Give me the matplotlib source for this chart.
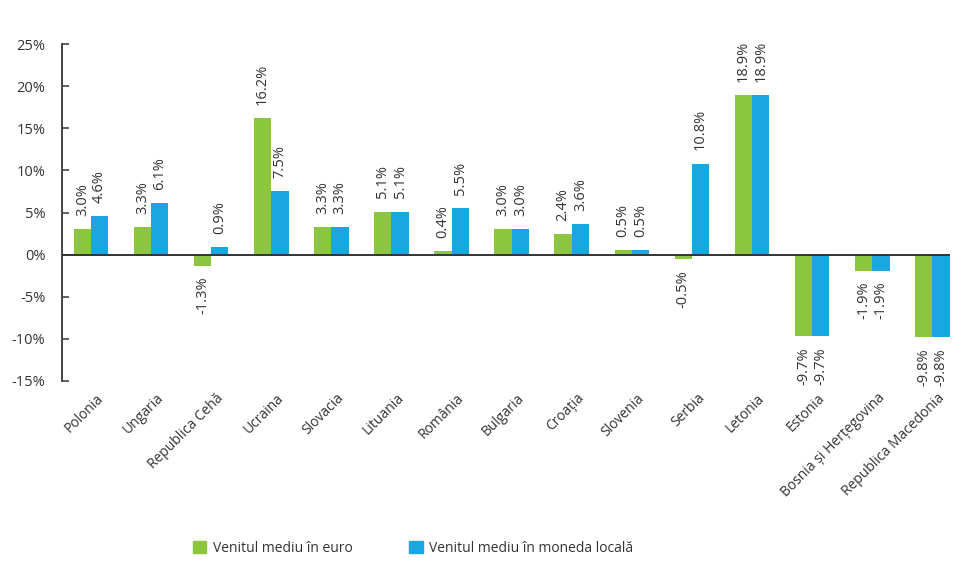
import matplotlib
matplotlib.use("Agg")
import matplotlib.pyplot as plt
import matplotlib.transforms as mtransforms
from matplotlib.patches import Patch
import numpy as np

categories = ["Polonia", "Ungaria", "Republica Cehă", "Ucraina", "Slovacia", "Lituania",
              "România", "Bulgaria", "Croația", "Slovenia", "Serbia", "Letonia",
              "Estonia", "Bosnia și Herțegovina", "Republica Macedonia"]
euro = [3.0, 3.3, -1.3, 16.2, 3.3, 5.1, 0.4, 3.0, 2.4, 0.5, -0.5, 18.9, -9.7, -1.9, -9.8]
local = [4.6, 6.1, 0.9, 7.5, 3.3, 5.1, 5.5, 3.0, 3.6, 0.5, 10.8, 18.9, -9.7, -1.9, -9.8]
series_names = ["Venitul mediu în euro", "Venitul mediu în moneda locală"]
yticks = [-15, -10, -5, 0, 5, 10, 15, 20, 25]

GREEN = "#8CC63E"
BLUE = "#1AA6E0"
TXT = "#333333"

plt.rcParams['font.family'] = ['Open Sans', 'DejaVu Sans']

fig = plt.figure(figsize=(9.67, 5.77), dpi=100)
ax = fig.add_axes([62/967, 1-381/577, (950-62)/967, (381-44)/577])

x = np.arange(len(categories))
w = 0.288
b1 = ax.bar(x - w/2, euro, w, color=GREEN, label=series_names[0])
b2 = ax.bar(x + w/2, local, w, color=BLUE, label=series_names[1])

for bars, vals in ((b1, euro), (b2, local)):
    for rect, v in zip(bars, vals):
        cx = rect.get_x() + rect.get_width()/2
        off = 9.5 if v >= 0 else -8
        ax.annotate(f"{v:.1f}%", (cx, v), xytext=(0, off), textcoords="offset points",
                    rotation=90, ha="center", va="bottom" if v >= 0 else "top",
                    fontsize=10.5, color=TXT)

ax.axhline(0, color="#333333", lw=1.4, zorder=3)
ax.set_xlim(-0.482, len(categories) - 1 + w + 0.005)
ax.set_ylim(-15, 25)
ax.set_yticks(yticks)
ax.set_yticklabels([f"{t}%" for t in yticks], fontsize=10.5, color=TXT)
ax.tick_params(axis="y", direction="in", length=5, width=1.2, color="#444444", pad=12)

ax.set_xticks(x)
ax.set_xticklabels(categories, rotation=45, ha="right", rotation_mode="anchor",
                   fontsize=10, color=TXT)
ax.tick_params(axis="x", length=0, pad=7)
offset = mtransforms.ScaledTranslation(5/100, 0, fig.dpi_scale_trans)
for lab in ax.get_xticklabels():
    lab.set_transform(lab.get_transform() + offset)

for s in ("top", "right", "bottom"):
    ax.spines[s].set_visible(False)
ax.spines["left"].set_color("#444444")
ax.spines["left"].set_linewidth(1.4)

handles = [Patch(color=GREEN, label=series_names[0]), Patch(color=BLUE, label=series_names[1])]
fig.legend(handles=handles, loc="center left", bbox_to_anchor=(180/967, 1-548/577),
           ncol=2, frameon=False, fontsize=10, handlelength=1.0, handleheight=1.0,
           handletextpad=0.5, columnspacing=4.0, labelcolor=TXT)

fig.savefig("out.png", dpi=100, facecolor="white")
